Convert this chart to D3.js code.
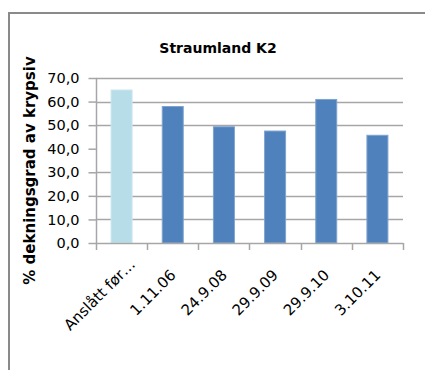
<!DOCTYPE html>
<html>
<head>
<meta charset="utf-8">
<script src="https://cdn.jsdelivr.net/npm/d3@7"></script>
<style>
  html, body { margin: 0; padding: 0; background: #fff; }
  svg { display: block; }
  text { font-family: "DejaVu Sans", sans-serif; fill: #000; }
</style>
</head>
<body>
<script>
// Dekningsgrad av krypsiv, Straumland K2
const categories = ["Anslått før…", "1.11.06", "24.9.08", "29.9.09", "29.9.10", "3.10.11"];
const values = [64.9, 57.9, 49.3, 47.5, 60.9, 45.7];
const barColors = ["#b7dee8", "#4f81bd", "#4f81bd", "#4f81bd", "#4f81bd", "#4f81bd"];
const yTicks = [0, 10, 20, 30, 40, 50, 60, 70];
const gridTicks = [10, 20, 30, 50, 60, 70];
const title = "Straumland K2";
const yTitle = "% dekningsgrad av krypsiv";

const W = 425, H = 370;
const margin = { left: 96, right: 22, top: 78, bottom: 127 };

const svg = d3.select("body").append("svg").attr("width", W).attr("height", H);

// chart frame
svg.append("rect")
  .attr("x", 9).attr("y", 13)
  .attr("width", W + 20).attr("height", H + 20)
  .attr("fill", "none").attr("stroke", "#8a8a8a").attr("stroke-width", 2);

const x = d3.scaleBand().domain(categories)
  .range([margin.left, W - margin.right]).paddingInner(0.59).paddingOuter(0.295);
const y = d3.scaleLinear().domain([0, 70]).range([H - margin.bottom, margin.top]);

// gridlines
svg.append("g").selectAll("line").data(gridTicks).join("line")
  .attr("x1", margin.left).attr("x2", W - margin.right)
  .attr("y1", d => Math.round(y(d)) + 0.5).attr("y2", d => Math.round(y(d)) + 0.5)
  .attr("stroke", "#a6a6a6").attr("stroke-width", 1.5);

// bars
svg.append("g").selectAll("rect").data(values).join("rect")
  .attr("x", (d, i) => x(categories[i]))
  .attr("width", x.bandwidth())
  .attr("y", d => y(d))
  .attr("height", d => y(0) - y(d))
  .attr("fill", (d, i) => barColors[i])
  .attr("stroke", (d, i) => i === 0 ? "#c9e6ee" : "#7fa2cf")
  .attr("stroke-width", 1);

// y axis
const yAxis = svg.append("g")
  .attr("transform", `translate(${margin.left + 0.5},0)`)
  .call(d3.axisLeft(y).tickValues(yTicks).tickSize(8).tickPadding(9)
    .tickFormat(d => d3.format(".1f")(d).replace(".", ",")));
yAxis.selectAll("line, path").attr("stroke", "#a6a6a6").attr("stroke-width", 1.5);
yAxis.select(".domain").attr("d", `M0,${y(70)}V${y(0)}`);
yAxis.selectAll("text").attr("font-size", 14.5).attr("font-family", "DejaVu Sans").attr("fill", "#000");

// x axis
const edges = categories.map(c => x(c) - x.step() * x.paddingInner() / 2).concat([W - margin.right]);
const xg = svg.append("g");
xg.append("line")
  .attr("x1", margin.left).attr("x2", W - margin.right)
  .attr("y1", y(0) + 0.5).attr("y2", y(0) + 0.5)
  .attr("stroke", "#a6a6a6").attr("stroke-width", 1.5);
xg.selectAll(".tk").data(edges).join("line").attr("class", "tk")
  .attr("x1", d => Math.round(d) + 0.5).attr("x2", d => Math.round(d) + 0.5)
  .attr("y1", y(0)).attr("y2", y(0) + 7)
  .attr("stroke", "#a6a6a6").attr("stroke-width", 1.5);
xg.selectAll("text").data(categories).join("text")
  .attr("transform", d => `translate(${x(d) + x.bandwidth() / 2 + 4},${y(0) + 33}) rotate(-45)`)
  .attr("text-anchor", "end")
  .attr("dx", (d, i) => i === 0 ? 15 : 0)
  .attr("font-size", 15)
  .text(d => d);

// title
svg.append("text")
  .attr("x", 218).attr("y", 53)
  .attr("text-anchor", "middle")
  .attr("font-size", 14).attr("font-weight", "bold")
  .text(title);

// y axis title
svg.append("text")
  .attr("transform", `translate(35,${(y(0) + y(70)) / 2 + 10}) rotate(-90)`)
  .attr("text-anchor", "middle")
  .attr("font-size", 15).attr("font-weight", "bold")
  .text(yTitle);
</script>
</body>
</html>
